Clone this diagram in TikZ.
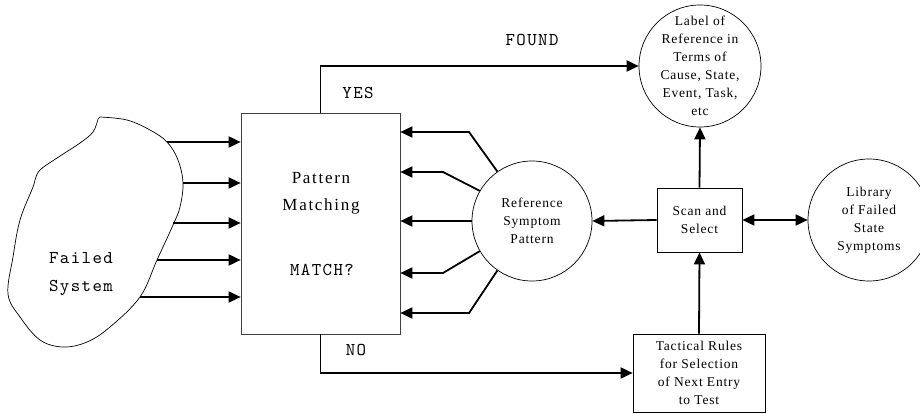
\documentclass[tikz,border=0pt]{standalone}
\usepackage{fontspec}
\setmainfont{Liberation Serif}
\newfontfamily\serf[LetterSpace=6]{Liberation Serif}
\newfontfamily\serp[LetterSpace=10]{Liberation Serif}
\newfontfamily\monof[LetterSpace=8]{lmmono10-regular.otf}
\usetikzlibrary{arrows.meta}
\begin{document}
\begin{tikzpicture}[x=1pt,y=-1pt,
 arr/.style={line width=1.8pt,-{Triangle[length=12pt,width=11pt]}},
 arrb/.style={line width=1.8pt,{Triangle[length=12pt,width=11pt]}-{Triangle[length=12pt,width=11pt]}},
 shp/.style={draw, line width=0.7pt},
 circ/.style={shp,circle,inner sep=0pt},
 ctext/.style={align=center,inner sep=0pt,font=\serf\fontsize{13.5}{18}\selectfont},
 boxn/.style={shp,rectangle,inner sep=0pt,align=center,font=\serf\fontsize{13.5}{18}\selectfont},
 lbl/.style={font=\monof\fontsize{18}{28}\selectfont, inner sep=0pt, align=center},
]
\useasboundingbox (0,0) rectangle (920,414);
\clip (0,0) rectangle (920,414);

% Failed system blob
\draw[line width=0.7pt] plot[smooth, tension=0.6] coordinates {
 (100,117) (127,120) (150,130) (167,142) (178,160) (183,183) (180,207)
 (173,225) (157,260) (140,297) (110,327) (87,342) (63,347) (40,340)
 (20,317) (8,294) (13,257) (20,220) (33,187) (35,180) (40,170) (57,158)
 (80,143) (93,132) (98,119)} -- cycle;
\node[lbl] (fs) at (81,274) {Failed\\System};

% Pattern matching box
\node[shp,draw=black!75,minimum width=159pt,minimum height=221pt,inner sep=0pt] (pm) at (320.5,223.5) {};
\node[align=center,inner sep=0pt,font=\serp\fontsize{17}{27}\selectfont] (pmt) at (321,193) {Pattern\\Matching};
\node[lbl] (match) at (322,270) {MATCH?};

% circles
\node[circ,minimum size=122pt] (lab) at (700,66) {};
\node[ctext] (labt) at (lab) {Label of\\Reference in\\Terms of\\Cause, State,\\Event, Task,\\etc};
\node[circ,minimum size=120pt] (ref) at (532,221) {};
\node[ctext] (reft) at (ref) {Reference\\Symptom\\Pattern};
\node[circ,minimum size=122pt] (lib) at (869,220) {};
\node[ctext] (libt) at (lib) {Library\\of Failed\\State\\Symptoms};

% boxes
\node[boxn,minimum width=85pt,minimum height=64pt] (scan) at (699.5,220) {Scan and\\Select};
\node[boxn,minimum width=132pt,minimum height=78pt] (tac) at (699,373) {Tactical Rules\\for Selection\\of Next Entry\\to Test};

% blob to box arrows
\coordinate (s1) at (167,142);
\coordinate (s2) at (183,183);
\coordinate (s3) at (173,223);
\coordinate (s4) at (157,260);
\coordinate (s5) at (140,297);
\foreach \s in {s1,s2,s3,s4,s5} \draw[arr] (\s) -- (\s -| pm.west);

% reference pattern to box arrows
\coordinate (b1) at (469,132);
\coordinate (b2) at (443,172);
\coordinate (b4) at (443,273);
\coordinate (b5) at (469,313);
\draw[arr] (ref.125) -- (b1) -- (b1 -| pm.east);
\draw[arr] (ref.150) -- (b2) -- (b2 -| pm.east);
\draw[arr] (ref.west) -- (ref.west -| pm.east);
\draw[arr] (ref.210) -- (b4) -- (b4 -| pm.east);
\draw[arr] (ref.235) -- (b5) -- (b5 -| pm.east);

% yes / no
\draw[arr] (pm.north) |- (lab.west);
\draw[arr] (pm.south) |- (tac.west);
\node[lbl] (found) at (532,40) {FOUND};
\node[lbl] (yes) at (358,93) {YES};
\node[lbl] (no) at (356,350) {NO};

% right side
\draw[arr] (scan.north) -- (lab.south);
\draw[arr] (tac.north) -- (scan.south);
\draw[arr] (scan.west) -- (ref.east);
\draw[arrb] (scan.east) -- (lib.west);
\end{tikzpicture}
\end{document}
